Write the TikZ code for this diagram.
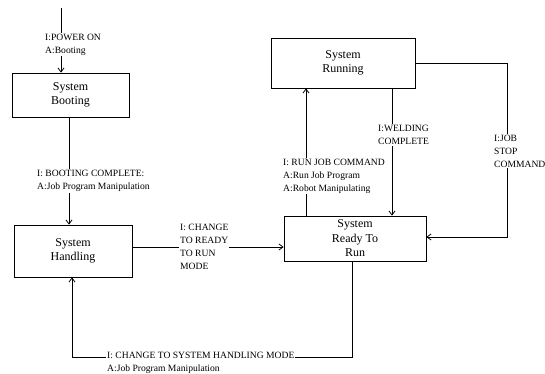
\documentclass[tikz,border=0pt]{standalone}
\usepackage{fontspec}
\setmainfont{Liberation Serif}
\usetikzlibrary{arrows.meta}
\begin{document}
\begin{tikzpicture}[x=1pt,y=-1pt,
  statebox/.style={draw, line width=0.8pt, inner sep=0pt, align=center,
    font=\fontsize{12}{14.5}\selectfont},
  lbl/.style={fill=white, inner sep=1pt, align=left, anchor=west,
    font=\fontsize{9.6}{13}\selectfont},
  conn/.style={line width=0.8pt},
  arr/.style={line width=0.8pt, -{Straight Barb[length=4pt,width=6pt]}}]
\useasboundingbox (0,0) rectangle (545,374);
\node[statebox, minimum width=117pt, minimum height=44pt] (boot) at (70.5,95) {System\\Booting};
\node[statebox, minimum width=118pt, minimum height=52pt] (hand) at (73,251) {System\\Handling};
\node[statebox, minimum width=144pt, minimum height=50pt] (run) at (343,63) {System\\Running};
\node[statebox, minimum width=142pt, minimum height=45pt] (ready) at (355,238.5) {System\\Ready To\\Run};
\coordinate (start) at (61,8);
\coordinate (jr) at (507,63);
\coordinate (bl) at (72,357);
% connectors
\draw[arr] (start) -- (61,0 |- boot.north);
\draw[arr] (69,0 |- boot.south) -- (69,0 |- hand.north);
\draw[arr] (hand.east |- 0,247) -- (ready.west |- 0,247);
\draw[arr] (306,0 |- ready.north) -- (306,0 |- run.south);
\draw[arr] (392,0 |- run.south) -- (392,0 |- ready.north);
\draw[arr] (run.east) -- (jr) -- (jr |- 0,237) -- (ready.east |- 0,237);
\draw[arr] (352,0 |- ready.south) -- (352,0 |- bl) -- (bl) -- (bl |- hand.south);
% labels
\node[lbl] (l1) at (44,44.5) {I:POWER ON\\A:Booting};
\node[lbl] (l2) at (36,181) {I: BOOTING COMPLETE:\\A:Job Program Manipulation};
\node[lbl] (l3) at (179,246.5) {I: CHANGE\\TO READY\\TO RUN\\MODE};
\node[lbl] (l4) at (282,176) {I: RUN JOB COMMAND\\A:Run Job Program\\A:Robot Manipulating};
\node[lbl] (l5) at (377,135) {I:WELDING\\COMPLETE};
\node[lbl] (l6) at (493,151) {I:JOB\\STOP\\COMMAND};
\node[lbl] (l7) at (106,362.5) {I: CHANGE TO SYSTEM HANDLING MODE\\A:Job Program Manipulation};
\end{tikzpicture}
\end{document}
